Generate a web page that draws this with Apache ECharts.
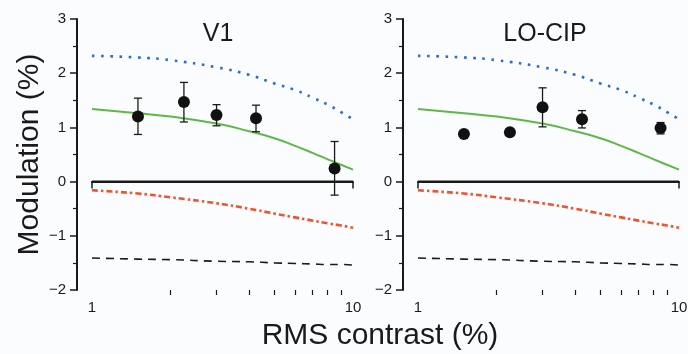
<!DOCTYPE html>
<html>
<head>
<meta charset="utf-8">
<script src="https://cdn.jsdelivr.net/npm/echarts@6/dist/echarts.min.js"></script>
<style>
  html, body { margin: 0; padding: 0; background: #fbfcfd; }
  #chart { width: 688px; height: 354px; }
</style>
</head>
<body>
<div id="chart"></div>
<script>
// model curves (same in both panels)
const curveContrast = [1, 1.5, 2, 3, 4, 5, 6, 7, 8, 9, 10];
const blueCurve = [2.32, 2.29, 2.24, 2.11, 1.97, 1.81, 1.69, 1.55, 1.42, 1.28, 1.15];
const greenCurve = [1.34, 1.26, 1.20, 1.07, 0.93, 0.80, 0.66, 0.53, 0.41, 0.31, 0.22];
const redCurve = [-0.16, -0.22, -0.29, -0.40, -0.50, -0.59, -0.66, -0.72, -0.77, -0.81, -0.85];
const blackCurve = [-1.41, -1.43, -1.44, -1.47, -1.48, -1.50, -1.51, -1.52, -1.53, -1.53, -1.54];

// measured points
const v1Contrast = [1.5, 2.25, 3.0, 4.25, 8.5];
const v1Mod = [1.20, 1.47, 1.23, 1.17, 0.24];
const v1Lo = [0.87, 1.10, 1.03, 0.92, -0.25];
const v1Hi = [1.54, 1.83, 1.42, 1.41, 0.74];

const loContrast = [1.5, 2.25, 3.0, 4.25, 8.5];
const loMod = [0.88, 0.91, 1.37, 1.15, 0.99];
const loLo = [0.84, 0.87, 1.01, 0.99, 0.88];
const loHi = [0.92, 0.95, 1.73, 1.31, 1.09];

const panelTitles = ["V1", "LO-CIP"];
const minorTicks = [2, 3, 4, 5, 6, 7, 8, 9];

const FONT = "Liberation Sans, Arial, Helvetica, sans-serif";
const INK = "#1a1a1a";

const chart = echarts.init(document.getElementById("chart"));

const pair = (xs, ys) => xs.map((x, i) => [x, ys[i]]);

function mainX(grid) {
  return {
    type: "log", logBase: 10, gridIndex: grid, min: 1, max: 10, position: "bottom",
    axisLine: { lineStyle: { color: INK, width: 2 } },
    axisTick: { length: 7, lineStyle: { color: INK, width: 1.5 } },
    axisLabel: { color: INK, fontSize: 15, fontFamily: FONT, margin: 10 },
    splitLine: { show: false }
  };
}
function minorX(grid) {
  return {
    type: "log", logBase: 10, gridIndex: grid, min: 1, max: 10, position: "bottom",
    axisLine: { show: false },
    axisTick: { length: 5, customValues: minorTicks, lineStyle: { color: INK, width: 1.2 } },
    axisLabel: { show: false },
    splitLine: { show: false }
  };
}
function yAx(grid, withName) {
  return {
    type: "value", gridIndex: grid, min: -2, max: 3, interval: 1, offset: 15,
    name: withName ? "Modulation (%)" : "",
    nameLocation: "middle", nameGap: 28,
    nameTextStyle: { color: INK, fontSize: 30, fontFamily: FONT },
    axisLine: { show: true, lineStyle: { color: INK, width: 2 } },
    axisTick: { show: true, length: 7, lineStyle: { color: INK, width: 1.5 } },
    minorTick: { show: true, splitNumber: 2, length: 4, lineStyle: { color: INK, width: 1.2 } },
    axisLabel: {
      color: INK, fontSize: 15, fontFamily: FONT, margin: 11,
      formatter: v => String(v).replace("-", "\u2212")
    },
    splitLine: { show: false }
  };
}

function curve(xi, yi, ys, color, type, width) {
  return {
    type: "line", xAxisIndex: xi, yAxisIndex: yi, data: pair(curveContrast, ys),
    smooth: true, showSymbol: false, symbol: "none", silent: true,
    lineStyle: { color: color, type: type, width: width, cap: "butt" }, z: 2
  };
}

function errorBars(xi, yi, xs, lo, hi) {
  return {
    type: "custom", xAxisIndex: xi, yAxisIndex: yi,
    data: xs.map((x, i) => [x, lo[i], hi[i]]),
    renderItem: (params, api) => {
      const top = api.coord([api.value(0), api.value(2)]);
      const bot = api.coord([api.value(0), api.value(1)]);
      const w = 4;
      const st = { stroke: INK, lineWidth: 1.3 };
      return {
        type: "group",
        children: [
          { type: "line", shape: { x1: top[0], y1: top[1], x2: bot[0], y2: bot[1] }, style: st },
          { type: "line", shape: { x1: top[0] - w, y1: top[1], x2: top[0] + w, y2: top[1] }, style: st },
          { type: "line", shape: { x1: bot[0] - w, y1: bot[1], x2: bot[0] + w, y2: bot[1] }, style: st }
        ]
      };
    },
    z: 3
  };
}

function panelSeries(xi, yi, xs, mod, lo, hi) {
  return [
    {
      type: "line", xAxisIndex: xi, yAxisIndex: yi, data: [[1, 0], [10, 0]],
      showSymbol: false, symbol: "none", silent: true,
      lineStyle: { color: INK, width: 2 }, z: 1
    },
    curve(xi, yi, blueCurve, "#2a6bd4", [2.6, 6.6], 2.6),
    curve(xi, yi, greenCurve, "#5cb947", "solid", 2),
    curve(xi, yi, redCurve, "#f2522e", [6, 3, 2.5, 3], 2.6),
    curve(xi, yi, blackCurve, INK, [8, 6], 1.6),
    errorBars(xi, yi, xs, lo, hi),
    {
      type: "scatter", xAxisIndex: xi, yAxisIndex: yi, data: pair(xs, mod),
      symbolSize: 12, itemStyle: { color: "#111", opacity: 1 }, z: 4
    }
  ];
}

const option = {
  backgroundColor: "#fbfcfd",
  animation: false,
  grid: [
    { left: 92, right: 335, top: 19, bottom: 64, outerBoundsMode: "none" },
    { left: 418, right: 9, top: 19, bottom: 64, outerBoundsMode: "none" }
  ],
  xAxis: [mainX(0), minorX(0), mainX(1), minorX(1)],
  yAxis: [yAx(0, true), yAx(1, false)],
  graphic: [
    { type: "text", x: 218, y: 34, style: { text: panelTitles[0], fill: INK, font: "25px " + FONT, align: "center", verticalAlign: "middle" } },
    { type: "text", x: 545, y: 34, style: { text: panelTitles[1], fill: INK, font: "25px " + FONT, align: "center", verticalAlign: "middle" } },
    { type: "text", x: 380, y: 336, style: { text: "RMS contrast (%)", fill: INK, font: "30px " + FONT, align: "center", verticalAlign: "middle" } }
  ],
  series: [
    ...panelSeries(0, 0, v1Contrast, v1Mod, v1Lo, v1Hi),
    ...panelSeries(2, 1, loContrast, loMod, loLo, loHi)
  ]
};

chart.setOption(option);
window.addEventListener("resize", () => chart.resize());
</script>
</body>
</html>
